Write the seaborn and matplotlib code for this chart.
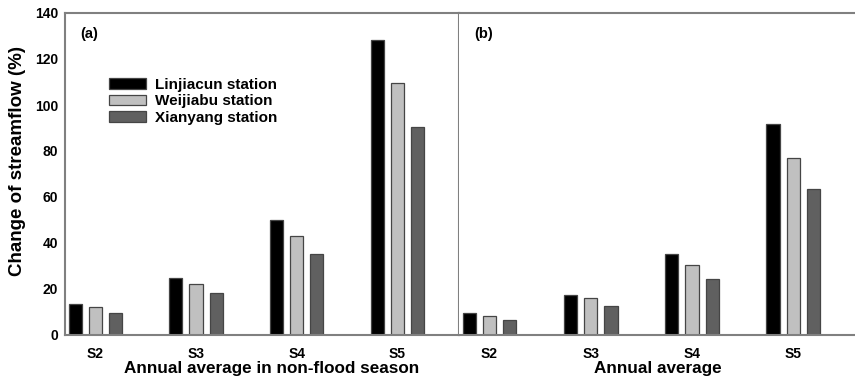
import matplotlib
matplotlib.use("Agg")
import matplotlib.pyplot as plt
import seaborn as sns
import pandas as pd

scenarios = ["S2", "S3", "S4", "S5"]
stations = ["Linjiacun station", "Weijiabu station", "Xianyang station"]
nonflood_linjiacun = [13.5, 24.6, 50.0, 128.4]
nonflood_weijiabu = [12.2, 22.3, 43.0, 109.4]
nonflood_xianyang = [9.7, 18.1, 35.2, 90.6]
annual_linjiacun = [9.4, 17.5, 35.3, 91.7]
annual_weijiabu = [8.3, 15.9, 30.3, 77.1]
annual_xianyang = [6.5, 12.6, 24.2, 63.3]
colors = ["#000000", "#c0c0c0", "#606060"]

sns.set_theme(style="white")
plt.rcParams["font.family"] = ["Liberation Sans", "DejaVu Sans"]
plt.rcParams["font.weight"] = "bold"
plt.rcParams["text.color"] = "black"
plt.rcParams["axes.labelcolor"] = "black"
plt.rcParams["xtick.labelcolor"] = "black"
plt.rcParams["ytick.labelcolor"] = "black"


def long_df(a, b, c):
    rows = []
    for st, vals in zip(stations, [a, b, c]):
        for s, v in zip(scenarios, vals):
            rows.append({"scenario": s, "station": st, "value": v})
    return pd.DataFrame(rows)


df_a = long_df(nonflood_linjiacun, nonflood_weijiabu, nonflood_xianyang)
df_b = long_df(annual_linjiacun, annual_weijiabu, annual_xianyang)

fig = plt.figure(figsize=(8.55, 3.88), dpi=100)
W, H = 855, 388
ax1 = fig.add_axes([65 / W, (388 - 335) / H, (459 - 65) / W, 322 / H])
ax2 = fig.add_axes([459 / W, (388 - 335) / H, (855 - 459) / W, 322 / H], sharey=ax1)

spine_c = "#808080"
for ax, df, lab, panel in [(ax1, df_a, "Annual average in non-flood season", "(a)"),
                           (ax2, df_b, "Annual average", "(b)")]:
    sns.barplot(data=df, x="scenario", y="value", hue="station", order=scenarios,
                hue_order=stations, palette=colors, width=0.6, gap=0.35,
                edgecolor="#454545", linewidth=0.9, errorbar=None, ax=ax, legend=True)
    ax.set_xlim(-0.3, 3.61)
    ax.set_ylim(0, 140)
    ax.set_yticks(range(0, 141, 20))
    ax.set_xlabel(lab, fontsize=12.3, fontweight="bold", labelpad=0, color="black")
    ax.tick_params(axis="x", length=4, width=1.2, color=spine_c, direction="out",
                   labelsize=10, pad=5, labelcolor="black")
    ax.tick_params(axis="y", length=0, labelsize=10, pad=5, labelcolor="black")
    for lbl in ax.get_xticklabels() + ax.get_yticklabels():
        lbl.set_fontweight("bold")
    for sp in ax.spines.values():
        sp.set_color(spine_c)
        sp.set_linewidth(1.5)
    ax.text(0.038, 0.955, panel, transform=ax.transAxes, fontsize=10.5,
            fontweight="bold", va="top", ha="left", color="black")

ax1.set_ylabel("Change of streamflow (%)", fontsize=13.5, fontweight="bold", color="black")
ax1.yaxis.set_label_coords((26 - 65) / 394, (335 - 161) / 322)
ax1.xaxis.set_label_coords((272 - 65) / 394, -(361 - 335) / 322)
ax2.xaxis.set_label_coords((658 - 459) / 396, -(361 - 335) / 322)
ax2.set_ylabel("")
ax2.tick_params(axis="y", labelleft=False)
ax2.spines["left"].set_visible(False)
ax2.spines["right"].set_visible(False)

ax2.get_legend().remove()
h, l = ax1.get_legend_handles_labels()
ax1.get_legend().remove()
leg = ax1.legend(h, l, loc="upper left", bbox_to_anchor=((103 - 65) / 394, (335 - 72) / 322),
                 frameon=False, fontsize=11, handlelength=2.4, handleheight=0.7,
                 handletextpad=0.6, labelspacing=0.15, borderaxespad=0)
for t in leg.get_texts():
    t.set_fontweight("bold")
    t.set_color("black")

fig.savefig("out.png", dpi=100)
